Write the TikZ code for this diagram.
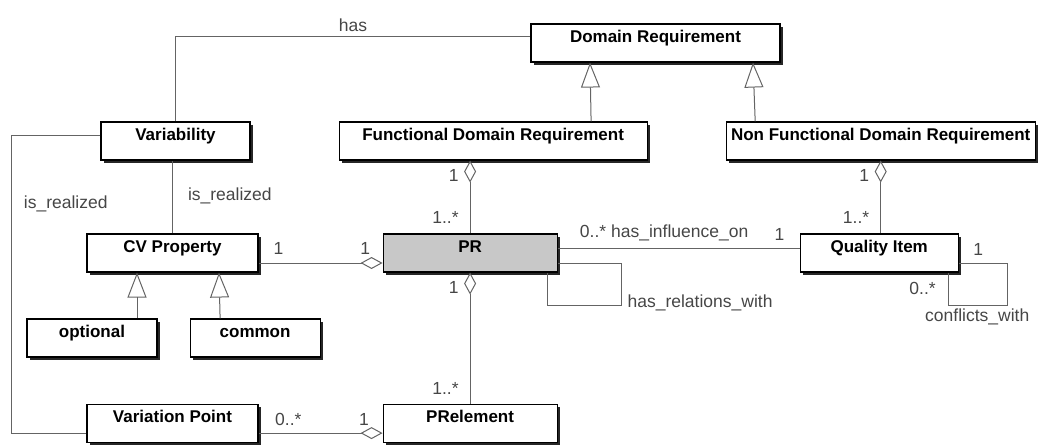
\documentclass[tikz,border=0pt]{standalone}
\usepackage{fontspec}
\setmainfont{Liberation Sans}
\usepackage{xcolor}
\usepackage{tikz}
\usetikzlibrary{arrows.meta, positioning, shadows}
\definecolor{linegray}{RGB}{100,100,100}
\definecolor{labelgray}{RGB}{70,70,70}
\definecolor{prgray}{RGB}{200,200,200}
\tikzset{
    classbox/.style={rectangle, draw, line width=1.1pt, fill=white, inner xsep=0pt, inner ysep=0pt, text height=18pt, text depth=20pt, font=\fontsize{17}{20}\selectfont\bfseries, drop shadow={shadow xshift=3pt, shadow yshift=-3pt, fill=black!85, opacity=1}},
    assoc/.style={draw=linegray, line width=1pt},
    aggr/.style={assoc, {Diamond[open, length=22pt, width=12pt]}-},
    gener/.style={assoc, -{Triangle[open, length=25pt, width=19pt]}},
    lbl/.style={text=labelgray, font=\fontsize{17.5}{20}\selectfont, inner sep=1pt}
}
\begin{document}
\begin{tikzpicture}[x=1pt, y=-1pt]
            \useasboundingbox (0,0) rectangle (1045,445);
            \node (domreq) [classbox, minimum width=249pt] at (655.5,43) {Domain Requirement};
            \node (var) [classbox, minimum width=149pt] at (175.5,141) {Variability};
            \node (fdr) [classbox, minimum width=308pt, right=88pt of var] {Functional Domain Requirement};
            \node (nfdr) [classbox, minimum width=309pt, right=78pt of fdr] {Non Functional Domain Requirement};
            \node (cv) [classbox, minimum width=171pt] at (172.5,253) {CV Property};
            \node (pr) [classbox, fill=prgray, minimum width=174pt, right=124pt of cv] {PR};
            \node (qi) [classbox, minimum width=158pt, right=242pt of pr] {Quality Item};
            \node (opt) [classbox, minimum width=130pt] at (92,338) {optional};
            \node (com) [classbox, minimum width=130pt, right=32pt of opt] {common};
            \node (vp) [classbox, minimum width=171pt, below=131pt of cv] {Variation Point};
            \node (pre) [classbox, minimum width=174pt, below=131pt of pr] {PRelement};

            \draw[assoc] (var.north) |- node[lbl, pos=0.75, above=3pt] {has} ([yshift=7pt]domreq.west);
            \draw[assoc] ([yshift=6pt]var.west) -- ++(-89,0) |- node[lbl, pos=0.116, right=11pt] {is\_realized} ([yshift=-10pt]vp.west);
            \draw[assoc] (cv.north) -- node[lbl, pos=0.51, right=14pt] {is\_realized} (cv.north |- var.south);

            \draw[gener] ([xshift=98pt]fdr.north) -- ([xshift=-65.5pt]domreq.south);
            \draw[gener] ([xshift=-125.5pt]nfdr.north) -- ([xshift=97.5pt]domreq.south);
            \draw[gener] ([xshift=45pt]opt.north) -- ([xshift=-35.5pt]cv.south);
            \draw[gener] ([xshift=-35pt]com.north) -- ([xshift=46.5pt]cv.south);

            \draw[aggr] (pr.north |- fdr.south) -- node[lbl, pos=0.2, left=10pt] {1} node[lbl, pos=0.78, left=10pt] {1..*} (pr.north);
            \draw[aggr] (nfdr.south) -- node[lbl, pos=0.2, left=10pt] {1} node[lbl, pos=0.78, left=10pt] {1..*} (nfdr.south |- qi.north);
            \draw[aggr] ([yshift=-10pt]pr.west) -- node[lbl, pos=0.14, above=7pt] {1} node[lbl, pos=0.84, above=7pt] {1} ([yshift=-10pt]cv.east);
            \draw[aggr] (pr.south) -- node[lbl, pos=0.115, left=10pt] {1} node[lbl, pos=0.885, left=10pt] {1..*} (pre.north);
            \draw[aggr] ([yshift=-10pt]pre.west) -- node[lbl, pos=0.15, above=6pt] {1} node[lbl, pos=0.76, above=6pt] {0..*} ([yshift=-10pt]vp.east);

            \draw[assoc] ([yshift=5pt]pr.east) -- node[lbl, pos=0.44, above=6pt] {0..* has\_influence\_on} node[lbl, pos=0.917, above=6pt] {1} ([yshift=5pt]qi.west);
            \draw[assoc] ([xshift=77pt]pr.south) |- ++(74,33) node[lbl, anchor=west, xshift=5pt, yshift=3pt] {has\_relations\_with} |- ([yshift=-10pt]pr.east);
            \draw[assoc] ([xshift=69pt]qi.south) |- node[lbl, pos=0.24, left=11pt] {0..*} node[lbl, pos=0.746, below=2pt] {conflicts\_with} ++(59,33) |- node[lbl, pos=0.8, above=6pt] {1} ([yshift=-10pt]qi.east);
        \end{tikzpicture}
\end{document}
